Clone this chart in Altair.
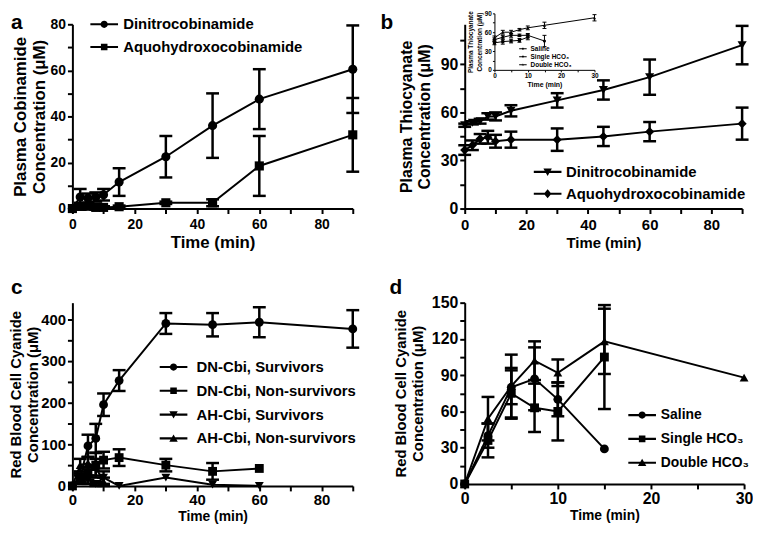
import altair as alt
import pandas as pd

FONT = "Liberation Sans, Arial, sans-serif"

# ---------------- data ----------------
# Panel a: plasma cobinamide
A_TIME = [0, 2.5, 5, 7.5, 10, 15, 30, 45, 60, 90]
A_DN = [0, 5, 4.5, 5, 6, 11.5, 22.5, 36, 47.5, 60.5]
A_DN_ERR = [0, 3.5, 2, 2, 2.5, 6, 9, 14, 13, 19]
A_AH = [0, 1, 1, 0.5, 0.5, 0.8, 2.5, 2.5, 18.5, 32]
A_AH_ERR = [0, 1.5, 1, 1, 0.5, 0.5, 0.5, 1.5, 13, 16]

# Panel b: plasma thiocyanate
B_TIME = [0, 2.5, 5, 7.5, 10, 15, 30, 45, 60, 90]
B_DN = [52, 53.5, 54.5, 57.5, 57.5, 61, 67.5, 74, 82, 102]
B_DN_ERR = [1, 1, 1.5, 2, 2.5, 3.5, 4.5, 6, 11, 12]
B_AH = [36.5, 39.5, 43.5, 44.5, 42, 43, 43, 45, 48, 53]
B_AH_ERR = [3, 3, 3, 4, 4, 5, 7, 6, 6, 10]

# Panel b inset
I_TIME_SAL = [0, 2.5, 5, 7.5, 10, 15]
I_SAL = [48, 52, 55, 55, 55, 46]
I_SAL_ERR = [3, 3, 3, 2, 3, 9]
I_TIME_SGL = [0, 2.5, 5, 7.5, 10]
I_SGL = [43, 45, 46, 47, 52]
I_SGL_ERR = [3, 4, 3, 3, 4]
I_TIME_DBL = [0, 2.5, 5, 7.5, 10, 15, 30]
I_DBL = [51, 60, 60, 64, 67, 71, 83]
I_DBL_ERR = [3, 3, 3, 2, 3, 5, 5]

# Panel c: red blood cell cyanide by outcome
C_TIME = [0, 2.5, 5, 7.5, 10, 15, 30, 45, 60, 90]
C_DNS = [0, 20, 96, 114, 195, 253, 390, 387, 393, 377]
C_DNS_ERR = [0, 10, 27, 35, 27, 25, 25, 28, 36, 45]
C_TIME_NS = [0, 2.5, 5, 7.5, 10, 15, 30, 45, 60]
C_DNN = [0, 15, 30, 50, 62, 68, 50, 35, 42]
C_DNN_ERR = [0, 10, 15, 30, 20, 20, 15, 20, 0]
C_AHS = [0, 20, 15, 5, 20, 0, 20, 3, 0]
C_AHS_ERR = [0, 10, 10, 5, 15, 0, 0, 0, 0]
C_TIME_AHN = [0, 2.5, 5, 7.5, 10]
C_AHN = [0, 50, 55, 45, 10]
C_AHN_ERR = [0, 15, 15, 20, 10]

# Panel d: red blood cell cyanide by treatment
D_TIME = [0, 2.5, 5, 7.5, 10, 15]
D_SAL = [0, 40, 80, 87, 70, 29]
D_SAL_ERR = [0, 10, 14, 26, 14, 0]
D_SGL = [0, 36, 75, 63, 60, 105]
D_SGL_ERR = [0, 14, 21, 20, 24, 43]
D_TIME_DBL = [0, 2.5, 5, 7.5, 10, 15, 30]
D_DBL = [0, 54, 81, 102, 92, 118, 88]
D_DBL_ERR = [0, 18, 26, 16, 11, 27, 0]


def frame(*series):
    rows = []
    for name, ts, vs, es in series:
        for t, v, e in zip(ts, vs, es):
            rows.append({"series": name, "t": t, "v": v, "lo": v - e, "hi": v + e, "err": e})
    return pd.DataFrame(rows)


MARK_PATH = {
    "circle": "M0.5,0A0.5,0.5,0,1,1,-0.5,0A0.5,0.5,0,1,1,0.5,0Z",
    "square": "M-0.45,-0.45H0.45V0.45H-0.45Z",
    "triangle-down": "M-0.58,-0.45H0.58L0,0.55Z",
    "triangle-up": "M-0.58,0.45L0,-0.55L0.58,0.45Z",
    "diamond": "M0,-0.62L0.52,0L0,0.62L-0.52,0Z",
}


def legend_path(shape, half=0.14):
    # horizontal bar (the connecting line) + marker, same winding
    return f"M-1.9,{-half}H1.9V{half}H-1.9Z {MARK_PATH[shape]}"


def make_axis(title, values, step, lsize, tsize, tpad, lpad=2, tick=5, dw=2, **extra):
    return alt.Axis(
        title=title, values=values,
        labelExpr=f"datum.value % {step} == 0 ? datum.label : ''",
        grid=False, domainColor="black", domainWidth=dw, tickColor="black", tickWidth=dw,
        tickSize=tick, labelFont=FONT, labelFontSize=lsize, labelFontWeight="bold",
        labelColor="black", labelPadding=lpad, labelOverlap=False, labelFlush=False,
        titleFont=FONT, titleFontSize=tsize, titleFontWeight="bold", titleColor="black",
        titlePadding=tpad, **extra)


def series_layers(df, names, shapes, xenc, yenc, msize, cap=13, ew=2.5, lw=2):
    base = alt.Chart(df)
    line = base.mark_line(color="black", strokeWidth=lw).encode(
        x=xenc("t"), y=yenc("v"), detail="series:N")
    eb = base.transform_filter("datum.err > 0")
    stem = eb.mark_rule(color="black", strokeWidth=ew).encode(
        x=xenc("t"), y=yenc("lo"), y2="hi:Q")
    cap_lo = eb.mark_tick(color="black", orient="horizontal", size=cap, thickness=ew, opacity=1).encode(
        x=xenc("t"), y=yenc("lo"))
    cap_hi = eb.mark_tick(color="black", orient="horizontal", size=cap, thickness=ew, opacity=1).encode(
        x=xenc("t"), y=yenc("hi"))
    pts = [
        base.transform_filter(alt.datum.series == n).mark_point(
            shape=s, filled=True, size=msize, color="black", opacity=1
        ).encode(x=xenc("t"), y=yenc("v"))
        for n, s in zip(names, shapes)
    ]
    return [line, stem, cap_lo, cap_hi] + pts


def legend_layer(names, shapes, lx, ly, sym, fs, rowpad, loff, half=0.14):
    d = pd.DataFrame({"series": names})
    return alt.Chart(d).mark_point(
        filled=True, clip=True, color="black", opacity=1
    ).encode(
        x=alt.value(-300), y=alt.value(-300),
        shape=alt.Shape(
            "series:N", sort=names,
            scale=alt.Scale(domain=names, range=[legend_path(s, half) for s in shapes]),
            legend=alt.Legend(
                title=None, orient="none", legendX=lx, legendY=ly, symbolSize=sym,
                symbolFillColor="black", symbolStrokeWidth=0,
                symbolOpacity=1, labelFont=FONT, labelFontSize=fs, labelFontWeight="bold",
                labelColor="black", labelOffset=loff, rowPadding=rowpad, padding=0,
                labelLimit=400)))


def letter_layer(ch, dx, dy, fs=21):
    return alt.Chart(pd.DataFrame({"k": [ch]})).mark_text(
        font=FONT, fontSize=fs, fontWeight="bold", color="black", align="left", baseline="alphabetic"
    ).encode(text="k:N", x=alt.value(dx), y=alt.value(dy))


SYM = 216

# ---------------- panel a ----------------
a_names = ["Dinitrocobinamide", "Aquohydroxocobinamide"]
a_shapes = ["circle", "square"]
a_df = frame((a_names[0], A_TIME, A_DN, A_DN_ERR), (a_names[1], A_TIME, A_AH, A_AH_ERR))


def xa(f):
    return alt.X(f"{f}:Q", scale=alt.Scale(domain=[0, 90], nice=False),
                 axis=make_axis("Time (min)", list(range(0, 91, 10)), 20, 14, 17, 3, lpad=4))


def ya(f):
    return alt.Y(f"{f}:Q", scale=alt.Scale(domain=[0, 80], nice=False),
                 axis=make_axis(["Plasma Cobinamide", "Concentration (μM)"], list(range(0, 81, 10)), 20, 14, 17, 2))


panel_a = alt.layer(
    *series_layers(a_df, a_names, a_shapes, xa, ya, 85),
    legend_layer(a_names, a_shapes, 24.6, -7.5, SYM, 15, 7, 11.7),
    letter_layer("a", -62, 5),
).properties(width=283, height=186)

# ---------------- panel b ----------------
b_names = ["Dinitrocobinamide", "Aquohydroxocobinamide"]
b_shapes = ["triangle-down", "diamond"]
b_df = frame((b_names[0], B_TIME, B_DN, B_DN_ERR), (b_names[1], B_TIME, B_AH, B_AH_ERR))


def xb(f):
    return alt.X(f"{f}:Q", scale=alt.Scale(domain=[0, 90], nice=False),
                 axis=make_axis("Time (min)", list(range(0, 91, 10)), 20, 15, 15, 3, lpad=4, orient="bottom"))


def yb(f):
    return alt.Y(f"{f}:Q", scale=alt.Scale(domain=[0, 115], nice=False),
                 axis=make_axis(["Plasma Thiocyanate", "Concentration (μM)"], list(range(0, 106, 15)), 30, 16, 16, 8,
                                orient="left"))


i_names = ["Saline", "Single HCO₃", "Double HCO₃"]
i_shapes = ["circle", "square", "triangle-up"]
i_df = frame((i_names[0], I_TIME_SAL, I_SAL, I_SAL_ERR),
             (i_names[1], I_TIME_SGL, I_SGL, I_SGL_ERR),
             (i_names[2], I_TIME_DBL, I_DBL, I_DBL_ERR))


def xi(f):
    return alt.X(f"{f}:Q", scale=alt.Scale(domain=[0, 30], range=[30, 131], nice=False),
                 axis=make_axis("Time (min)", list(range(0, 31, 5)), 10, 6.5, 7, 1, lpad=1, tick=2, dw=1,
                                orient="bottom", offset=-140))


def yi(f):
    return alt.Y(f"{f}:Q", scale=alt.Scale(domain=[0, 90], range=[46, -11], nice=False),
                 axis=make_axis(["Plasma Thiocyanate", "Concentration (μM)"], list(range(0, 91, 15)), 30, 6.5, 6.5, 2,
                                lpad=1, tick=2, dw=1, orient="left", offset=-30))


main_b = alt.layer(
    *series_layers(b_df, b_names, b_shapes, xb, yb, 85),
    legend_layer(b_names, b_shapes, 76.2, 141.5, SYM, 15, 6, 11.1),
    letter_layer("b", -85, 5),
)
inset_b = alt.layer(
    *series_layers(i_df, i_names, i_shapes, xi, yi, 10, cap=4, ew=1, lw=1),
    legend_layer(i_names, i_shapes, 55.5, 21.5, 16, 6.5, 1, 4.5, half=0.25),
)
panel_b = alt.layer(main_b, inset_b).resolve_scale(
    x="independent", y="independent", shape="independent"
).properties(width=280, height=186)

# ---------------- panel c ----------------
c_names = ["DN-Cbi, Survivors", "DN-Cbi, Non-survivors", "AH-Cbi, Survivors", "AH-Cbi, Non-survivors"]
c_shapes = ["circle", "square", "triangle-down", "triangle-up"]
c_df = frame((c_names[0], C_TIME, C_DNS, C_DNS_ERR),
             (c_names[1], C_TIME_NS, C_DNN, C_DNN_ERR),
             (c_names[2], C_TIME_NS, C_AHS, C_AHS_ERR),
             (c_names[3], C_TIME_AHN, C_AHN, C_AHN_ERR))


def xc(f):
    return alt.X(f"{f}:Q", scale=alt.Scale(domain=[0, 90], nice=False),
                 axis=make_axis("Time (min)", list(range(0, 91, 10)), 20, 15, 14, 2, lpad=2))


def yc(f):
    return alt.Y(f"{f}:Q", scale=alt.Scale(domain=[0, 440], nice=False),
                 axis=make_axis(["Red Blood Cell Cyanide", "Concentration (μM)"], list(range(0, 401, 50)), 100, 15, 15, 0))


panel_c = alt.layer(
    *series_layers(c_df, c_names, c_shapes, xc, yc, 80),
    legend_layer(c_names, c_shapes, 94.6, 57.5, SYM, 15, 8, 15.7),
    letter_layer("c", -62, -9),
).properties(width=283, height=185)

# ---------------- panel d ----------------
d_names = ["Saline", "Single HCO₃", "Double HCO₃"]
d_shapes = ["circle", "square", "triangle-up"]
d_df = frame((d_names[0], D_TIME, D_SAL, D_SAL_ERR),
             (d_names[1], D_TIME, D_SGL, D_SGL_ERR),
             (d_names[2], D_TIME_DBL, D_DBL, D_DBL_ERR))


def xd(f):
    return alt.X(f"{f}:Q", scale=alt.Scale(domain=[0, 30], nice=False),
                 axis=make_axis("Time (min)", list(range(0, 31, 5)), 10, 16, 14, 2, lpad=2))


def yd(f):
    return alt.Y(f"{f}:Q", scale=alt.Scale(domain=[0, 150], nice=False),
                 axis=make_axis(["Red Blood Cell Cyanide", "Concentration (μM)"], list(range(0, 151, 15)), 30, 16, 15, 6))


panel_d = alt.layer(
    *series_layers(d_df, d_names, d_shapes, xd, yd, 80),
    legend_layer(d_names, d_shapes, 171.6, 106, SYM, 14, 9, 11.4),
    letter_layer("d", -76, -9),
).properties(width=282, height=183)

chart = alt.concat(
    panel_a, panel_b, panel_c, panel_d, columns=2, bounds="flush",
    spacing={"row": 95, "column": 113},
).resolve_scale(shape="independent", x="independent", y="independent").configure_view(stroke=None).properties(
    padding={"left": 0, "top": 0, "right": 0, "bottom": 0}
)

chart.save("out.html", embed_options={"renderer": "svg", "actions": False})
